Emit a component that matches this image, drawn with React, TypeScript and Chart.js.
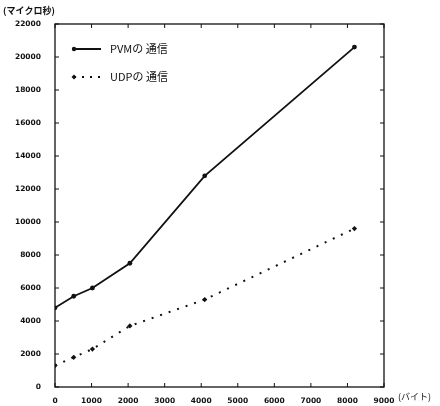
import React, { useEffect, useRef } from "react";
import { Chart, registerables } from "chart.js";

Chart.register(...registerables);

const sizes = [0, 512, 1024, 2048, 4096, 8192];
const pvmValues = [4800, 5500, 6000, 7500, 12800, 20600];
const udpValues = [1300, 1800, 2300, 3700, 5300, 9600];
const seriesNames = ["PVMの 通信", "UDPの 通信"];
const yTitle = "(マイクロ秒)";
const xTitle = "(バイト)";

const FONT = "'Noto Sans CJK JP', 'DejaVu Sans', sans-serif";
const TICKFONT = "'DejaVu Sans', sans-serif";

const framePlugin = {
  id: "frame",
  afterDraw(chart: any) {
    const { ctx, chartArea: a, scales } = chart;
    const xs = scales.x;
    const ys = scales.y;
    ctx.save();
    ctx.strokeStyle = "#111";
    ctx.lineWidth = 1.3;
    ctx.strokeRect(a.left, a.top, a.right - a.left, a.bottom - a.top);
    ctx.lineWidth = 1;
    const tl = 4;
    xs.ticks.forEach((t: any) => {
      const px = xs.getPixelForValue(t.value);
      ctx.beginPath();
      ctx.moveTo(px, a.bottom);
      ctx.lineTo(px, a.bottom - tl);
      ctx.moveTo(px, a.top);
      ctx.lineTo(px, a.top + tl);
      ctx.stroke();
    });
    ys.ticks.forEach((t: any) => {
      const py = ys.getPixelForValue(t.value);
      ctx.beginPath();
      ctx.moveTo(a.left, py);
      ctx.lineTo(a.left + tl, py);
      ctx.moveTo(a.right, py);
      ctx.lineTo(a.right - tl, py);
      ctx.stroke();
    });
    // titles
    ctx.fillStyle = "#111";
    ctx.font = `bold 9px ${FONT}`;
    ctx.textAlign = "left";
    ctx.textBaseline = "middle";
    ctx.fillText(yTitle, 3, 11);
    ctx.font = `9px ${FONT}`;
    ctx.fillText(xTitle, 398, 397);
    // legend
    const lx = a.left + 15;
    const items = [
      { y: a.top + 25, dash: [] as number[], marker: "circle" },
      { y: a.top + 53, dash: [2, 6], marker: "rectRot" },
    ];
    items.forEach((it, i) => {
      ctx.strokeStyle = "#111";
      ctx.lineWidth = 2;
      ctx.setLineDash(it.dash);
      ctx.beginPath();
      ctx.moveTo(lx + 4, it.y);
      ctx.lineTo(lx + 31, it.y);
      ctx.stroke();
      ctx.setLineDash([]);
      ctx.fillStyle = "#111";
      ctx.beginPath();
      if (it.marker === "circle") {
        ctx.arc(lx + 4, it.y, 2.2, 0, Math.PI * 2);
      } else {
        ctx.moveTo(lx + 4, it.y - 2.5);
        ctx.lineTo(lx + 6.5, it.y);
        ctx.lineTo(lx + 4, it.y + 2.5);
        ctx.lineTo(lx + 1.5, it.y);
        ctx.closePath();
      }
      ctx.fill();
      ctx.font = `11px ${FONT}`;
      ctx.textAlign = "left";
      ctx.textBaseline = "middle";
      ctx.fillText(seriesNames[i], lx + 40, it.y);
    });
    ctx.restore();
  },
};

export default function App() {
  const ref = useRef<HTMLCanvasElement>(null);
  useEffect(() => {
    if (!ref.current) return;
    const chart = new Chart(ref.current, {
      type: "line",
      data: {
        datasets: [
          {
            label: seriesNames[0],
            data: sizes.map((s, i) => ({ x: s, y: pvmValues[i] })),
            borderColor: "#111",
            backgroundColor: "#111",
            borderWidth: 1.8,
            pointRadius: 2.4,
            pointBorderWidth: 0,
            pointStyle: "circle",
            tension: 0,
          },
          {
            label: seriesNames[1],
            data: sizes.map((s, i) => ({ x: s, y: udpValues[i] })),
            borderColor: "#111",
            backgroundColor: "#111",
            borderWidth: 2,
            borderDash: [2, 7],
            pointRadius: 2.6,
            pointBorderWidth: 0,
            pointStyle: "rectRot",
            tension: 0,
          },
        ],
      },
      options: {
        animation: false,
        responsive: false,
        layout: { padding: { left: 0, right: 56, top: 24, bottom: 0 } },
        plugins: { legend: { display: false }, tooltip: { enabled: false } },
        scales: {
          x: {
            type: "linear",
            min: 0,
            max: 9000,
            grid: { display: false },
            border: { display: false },
            ticks: {
              stepSize: 1000,
              color: "#111",
              font: { family: TICKFONT, size: 7.5, weight: "bold" },
              padding: 2,
              maxRotation: 0,
              callback: (v: any) => String(v),
            },
            afterFit: (s: any) => {
              s.height = 19;
            },
          },
          y: {
            min: 0,
            max: 22000,
            grid: { display: false },
            border: { display: false },
            ticks: {
              stepSize: 2000,
              color: "#111",
              font: { family: TICKFONT, size: 7.5, weight: "bold" },
              padding: 6,
              callback: (v: any) => String(v),
            },
            afterFit: (s: any) => {
              s.width = 55;
            },
          },
        },
      },
      plugins: [framePlugin],
    });
    return () => chart.destroy();
  }, []);
  return (
    <div style={{ position: "fixed", left: 0, top: 0, width: 440, height: 406, background: "#fff" }}>
      <canvas ref={ref} width={440} height={406} style={{ width: 440, height: 406 }} />
    </div>
  );
}
